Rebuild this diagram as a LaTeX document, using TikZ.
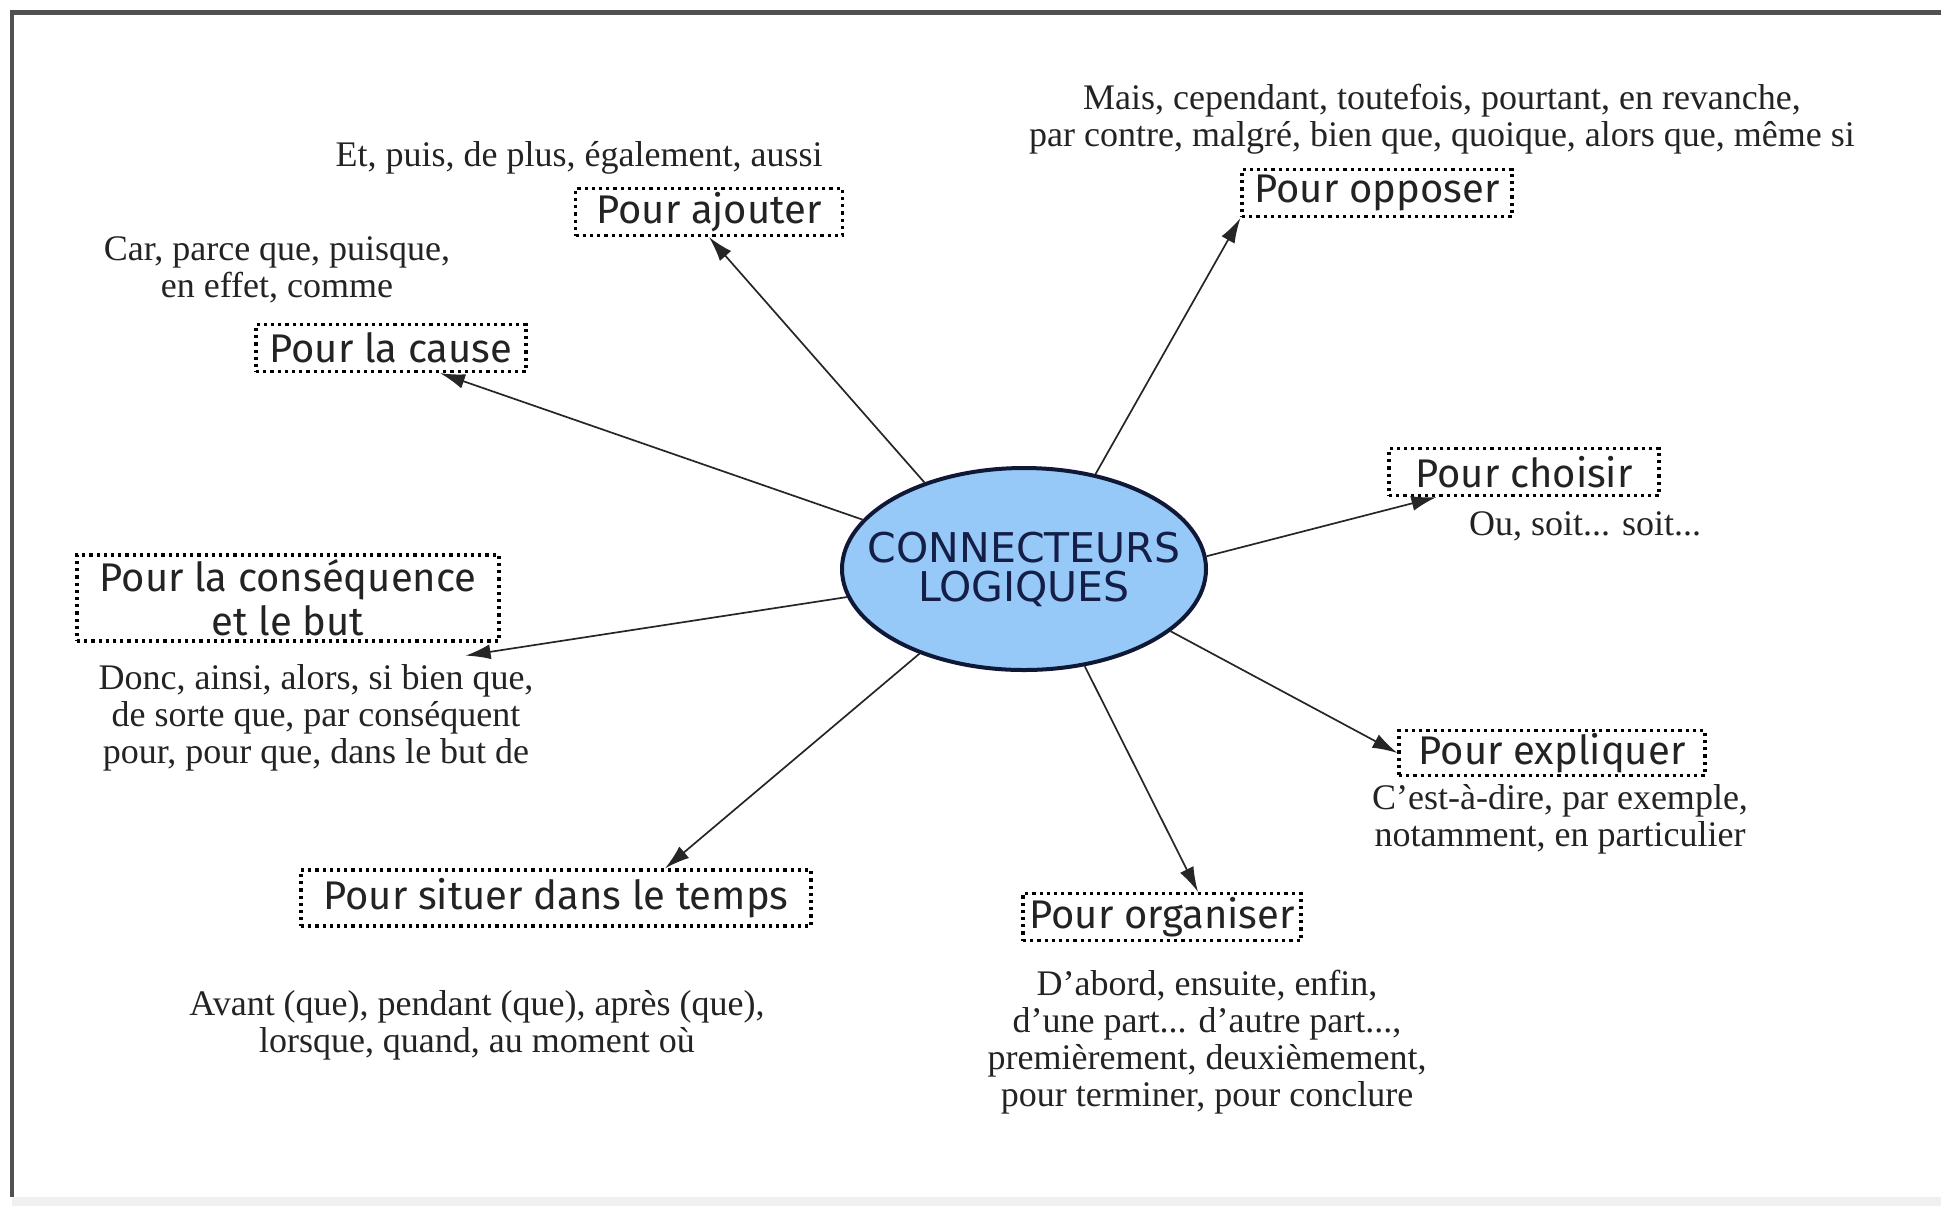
\documentclass[tikz,border=0pt]{standalone}
\usepackage{fontspec}
\setmainfont{Liberation Serif}
\newfontfamily\boxfont{Fira Sans}
\newfontfamily\titlefont{DejaVu Sans}
\usetikzlibrary{arrows.meta,shapes.geometric}
\definecolor{ellfill}{RGB}{150,200,248}
\definecolor{ellline}{RGB}{15,25,55}
\definecolor{titlecol}{RGB}{20,30,70}
\definecolor{framecol}{RGB}{80,80,80}
\definecolor{txtcol}{RGB}{35,35,35}
\tikzset{
  catbox/.style={draw=black, line width=1.6pt, dash pattern=on 1.6pt off 2pt,
    inner sep=0pt, font=\boxfont\fontsize{20}{22}\selectfont, text=txtcol, align=center},
  examples/.style={font=\fontsize{18}{18.5}\selectfont, text=txtcol, align=center, inner sep=0pt},
  link/.style={draw=black!85, line width=0.85pt, -{Latex[length=12.5pt,width=7.5pt]}},
  hub/.style={ellipse, draw=ellline, line width=2pt, fill=ellfill,
    minimum width=182pt, minimum height=101pt, inner xsep=-18pt, inner ysep=0pt,
    font=\titlefont\fontsize{20.5}{19.5}\selectfont, text=titlecol, align=center}
}
\begin{document}
\begin{tikzpicture}[x=0.5pt,y=-0.5pt]
\useasboundingbox (0,0) rectangle (1941,1206);
% frame
\fill[black!6] (12,1197) rectangle (1941,1206);
\draw[framecol, line width=2.5pt] (10,12) -- (1941,12);
\draw[framecol, line width=2pt] (12,12) -- (12,1197);

% hub
\node[hub] (c) at (1024,569) {CONNECTEURS\\LOGIQUES};

% category boxes
\node[catbox, minimum width=133.5pt, minimum height=23.5pt] (aj) at (709,212) {Pour ajouter};
\node[catbox, minimum width=135pt, minimum height=23.5pt] (cause) at (391,348) {Pour la cause};
\node[catbox, minimum width=135pt, minimum height=23.5pt] (opp) at (1377,193) {Pour opposer};
\node[catbox, minimum width=135pt, minimum height=23.5pt] (cho) at (1524,472) {Pour choisir};
\node[catbox, minimum width=211pt, minimum height=43pt] (cons) at (288,598) {Pour la conséquence\\et le but};
\node[catbox, minimum width=153pt, minimum height=22.5pt] (exp) at (1552,753) {Pour expliquer};
\node[catbox, minimum width=255pt, minimum height=28pt] (tps) at (556,898) {Pour situer dans le temps};
\node[catbox, minimum width=139pt, minimum height=23.5pt] (org) at (1162,917) {Pour organiser};

% example texts
\node[examples] (taj) at (579,158) {Et, puis, de plus, également, aussi};
\node[examples] (tcause) at (277,270) {Car, parce que, puisque,\\en effet, comme};
\node[examples] (topp) at (1442,119) {Mais, cependant, toutefois, pourtant, en revanche,\\par contre, malgré, bien que, quoique, alors que, même si};
\node[examples] (tcho) at (1585,526) {Ou, soit... soit...};
\node[examples] (tcons) at (316,718) {Donc, ainsi, alors, si bien que,\\de sorte que, par conséquent\\pour, pour que, dans le but de};
\node[examples] (texp) at (1560,819) {C'est-à-dire, par exemple,\\notamment, en particulier};
\node[examples] (ttps) at (477,1025) {Avant (que), pendant (que), après (que),\\lorsque, quand, au moment où};
\node[examples] (torg) at (1207,1042) {D'abord, ensuite, enfin,\\d'une part... d'autre part...,\\premièrement, deuxièmement,\\pour terminer, pour conclure};

% connectors
\draw[link] (c.139.7) -- (aj.south);
\draw[link] (c.163.5) -- ([xshift=24.5pt]cause.south);
\draw[link] (c.53.7) -- (opp.south west);
\draw[link] (c.4.4) -- ([xshift=24.5pt]cho.south west);
\draw[link] (c.189.2) -- ([xshift=-17.5pt,yshift=-6.5pt]cons.south east);
\draw[link] (c.337.1) -- (exp.west);
\draw[link] (c.302.2) -- ([xshift=18pt]org.north);
\draw[link] (c.219.8) -- ([xshift=54.5pt]tps.north);
\end{tikzpicture}
\end{document}
